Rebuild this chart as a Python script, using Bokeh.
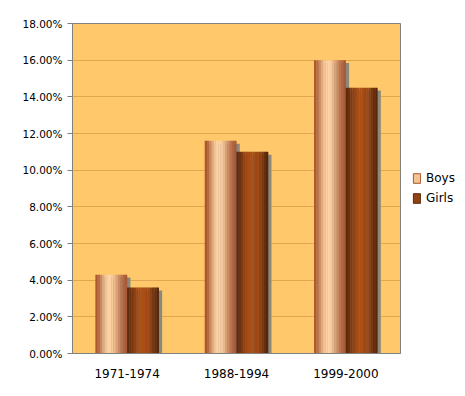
from bokeh.plotting import figure
from bokeh.models import (ColumnDataSource, FactorRange, PrintfTickFormatter,
                          FixedTicker, Legend, LegendItem)
from bokeh.transform import dodge
from bokeh.embed import file_html
from bokeh.resources import INLINE

categories = ["1971-1974", "1988-1994", "1999-2000"]
boys = [4.3, 11.6, 16.0]
girls = [3.6, 11.0, 14.5]
y_ticks = [0, 2, 4, 6, 8, 10, 12, 14, 16, 18]

# gradient styling (left -> right across each bar)
boys_grad = ["#a9582f", "#b86a42", "#cc8a60", "#e0a97e", "#f1c496", "#fbd1a3",
             "#fdd3a5", "#f7c99b", "#eab88a", "#d9a176", "#c98a62", "#bb7550",
             "#b06642", "#a65a36"]
girls_grad = ["#5f2a0c", "#6e3211", "#7e3a12", "#8f4213", "#9e4814", "#a84d15",
              "#ac5016", "#a84d15", "#9c4714", "#a04914", "#8e4113", "#7a3811",
              "#682f0f", "#58270b"]

src = ColumnDataSource(dict(cat=categories, boys=boys, girls=girls,
                            zero=[0] * len(categories)))

p = figure(x_range=FactorRange(*categories), y_range=(0, 18),
           frame_width=328, frame_height=330,
           output_backend="svg", toolbar_location=None,
           background_fill_color="#ffc96b", border_fill_color="white",
           min_border_left=72, min_border_top=23, min_border_bottom=31,
           min_border_right=0)

bw = 0.29
# shadows
for key, off in (("boys", -bw / 2), ("girls", bw / 2)):
    sh = ColumnDataSource(dict(cat=categories, top=[v - 0.16 for v in src.data[key]]))
    p.vbar(x=dodge("cat", off + 0.03, range=p.x_range), top="top", bottom=0,
           width=bw, source=sh, fill_color="#8c887a", line_color=None)

n = len(boys_grad)
sw = bw / n
for key, grad, base in (("boys", boys_grad, -bw), ("girls", girls_grad, 0.0)):
    for i, c in enumerate(grad):
        off = base + sw * (i + 0.5)
        p.vbar(x=dodge("cat", off, range=p.x_range), top=key, bottom=0,
               width=sw * 1.08, source=src, fill_color=c, line_color=None)

# zero-height proxies for legend swatches
lb = p.vbar(x="cat", top="zero", bottom=0, width=0.01, source=src,
            fill_color="#f3c394", line_color="#a9582f")
lg = p.vbar(x="cat", top="zero", bottom=0, width=0.01, source=src,
            fill_color="#8f4213", line_color="#5f2a0c")

legend = Legend(items=[LegendItem(label="Boys", renderers=[lb]),
                       LegendItem(label="Girls", renderers=[lg])],
                location="center_left", border_line_color=None,
                background_fill_alpha=0, label_text_font="DejaVu Sans",
                label_text_font_size="12px", label_text_color="black",
                glyph_width=9, glyph_height=12,
                label_standoff=5, spacing=6, padding=2, margin=12)
p.add_layout(legend, "right")

p.yaxis.ticker = FixedTicker(ticks=y_ticks)
p.yaxis.formatter = PrintfTickFormatter(format="%.2f%%")
p.yaxis.major_label_text_font = "DejaVu Sans"
p.yaxis.major_label_text_font_size = "10.5px"
p.yaxis.major_label_text_color = "black"
p.yaxis.axis_line_color = "#808080"
p.yaxis.major_tick_line_color = "#808080"
p.yaxis.major_tick_out = 5
p.yaxis.major_tick_in = 0
p.yaxis.minor_tick_line_color = None
p.yaxis.major_label_standoff = 5

p.xaxis.major_label_text_font = "DejaVu Sans"
p.xaxis.major_label_text_font_size = "12px"
p.xaxis.major_label_text_color = "black"
p.xaxis.axis_line_color = "#808080"
p.xaxis.major_tick_line_color = None
p.xaxis.major_label_standoff = 9

p.xgrid.grid_line_color = None
p.ygrid.grid_line_color = "#e2a650"
p.ygrid.ticker = FixedTicker(ticks=y_ticks)
p.outline_line_color = "#808080"
p.x_range.range_padding = 0
p.x_range.factor_padding = 0

open("out.html", "w").write(file_html(p, INLINE))
